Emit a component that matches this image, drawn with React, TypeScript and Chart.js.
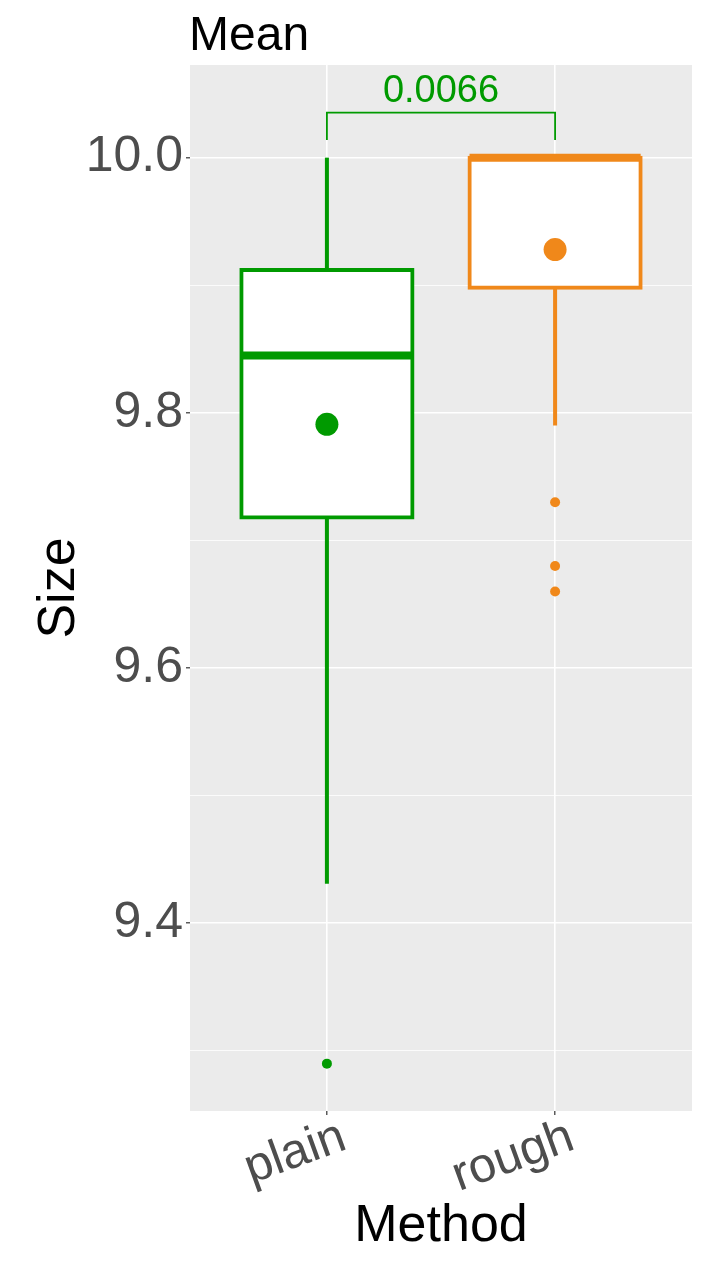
import React, { useEffect, useRef } from 'react';
import { Chart, registerables } from 'chart.js';

Chart.register(...registerables);

// ---- data ----
const categories = ['plain', 'rough'];
const categoryPositions = [1, 2];
const q1Values = [9.718, 9.898];
const medianValues = [9.845, 10.0];
const q3Values = [9.912, 10.0];
const whiskerLowValues = [9.431, 9.79];
const whiskerHighValues = [10.0, 10.0];
const meanValues = [9.791, 9.928];
const plainOutliers = [9.29];
const roughOutliers = [9.73, 9.68, 9.66];
const yMajorTicks = [9.4, 9.6, 9.8, 10.0];
const yTickLabels = ['9.4', '9.6', '9.8', '10.0'];
const yMinorTicks = [9.3, 9.5, 9.7, 9.9];
const pValueText = '0.0066';
const bracketTop = 10.0353;
const bracketTip = 10.0139;
const chartTitle = 'Mean';
const xTitle = 'Method';
const yTitle = 'Size';

// ---- styles ----
const GREEN = '#009A00';
const ORANGE = '#F0881A';
const COLORS = [GREEN, ORANGE];
const FONT = "'Liberation Sans', Arial, Helvetica, sans-serif";
const BOX_WIDTH = 0.75;
const X_MIN = 0.4;
const X_MAX = 2.6;
const Y_MIN = 9.2529;
const Y_MAX = 10.0726;

const isMajor = (v: number | undefined) =>
  v !== undefined && yMajorTicks.some((m) => Math.abs(m - v) < 1e-6);

export default function App() {
  const ref = useRef<HTMLCanvasElement>(null);

  useEffect(() => {
    const canvas = ref.current;
    if (!canvas) return;

    const panelBg = {
      id: 'panelBg',
      beforeDraw(chart: any) {
        const { ctx, chartArea: a } = chart;
        ctx.save();
        ctx.fillStyle = '#EBEBEB';
        ctx.fillRect(a.left, a.top, a.right - a.left, a.bottom - a.top);
        ctx.restore();
      },
    };

    const annotations = {
      id: 'annotations',
      afterDraw(chart: any) {
        const { ctx, chartArea } = chart;
        const x = chart.scales.x;
        const y = chart.scales.y;
        ctx.save();
        ctx.font = `38px ${FONT}`;
        ctx.fillStyle = GREEN;
        ctx.textAlign = 'center';
        ctx.textBaseline = 'alphabetic';
        ctx.fillText(
          pValueText,
          x.getPixelForValue((categoryPositions[0] + categoryPositions[1]) / 2),
          y.getPixelForValue(bracketTop) - 11
        );
        ctx.font = `48px ${FONT}`;
        ctx.fillStyle = '#000000';
        ctx.textAlign = 'left';
        ctx.fillText(chartTitle, chartArea.left - 1, 50);
        ctx.restore();
      },
    };

    const medianRadius = (c: any) => {
      const s = c.chart.scales.x;
      return s.getPixelForValue(1 + BOX_WIDTH / 2) - s.getPixelForValue(1);
    };

    const chart = new Chart(canvas, {
      type: 'bar',
      data: {
        datasets: [
          {
            type: 'bar',
            label: 'lower whisker',
            data: categoryPositions.map((x, i) => ({ x, y: [whiskerLowValues[i], q1Values[i]] })),
            backgroundColor: COLORS,
            borderWidth: 0,
            barThickness: 4,
            grouped: false,
            inflateAmount: 0,
            order: 7,
          } as any,
          {
            type: 'bar',
            label: 'upper whisker',
            data: categoryPositions.map((x, i) => ({ x, y: [q3Values[i], whiskerHighValues[i]] })),
            backgroundColor: COLORS,
            borderWidth: 0,
            barThickness: 4,
            grouped: false,
            inflateAmount: 0,
            order: 7,
          } as any,
          {
            type: 'bar',
            label: 'box',
            data: categoryPositions.map((x, i) => ({ x, y: [q1Values[i], q3Values[i]] })),
            backgroundColor: '#FFFFFF',
            borderColor: COLORS,
            borderWidth: 4,
            borderSkipped: false,
            inflateAmount: 2,
            grouped: false,
            categoryPercentage: 1,
            barPercentage: BOX_WIDTH,
            order: 6,
          } as any,
          {
            type: 'scatter',
            label: 'median',
            data: categoryPositions.map((x, i) => ({ x, y: medianValues[i] })),
            pointStyle: 'line',
            pointRadius: medianRadius,
            pointBorderWidth: 8,
            pointBorderColor: COLORS,
            pointBackgroundColor: COLORS,
            order: 5,
          } as any,
          {
            type: 'scatter',
            label: 'mean',
            data: categoryPositions.map((x, i) => ({ x, y: meanValues[i] })),
            pointRadius: 11.5,
            pointBorderWidth: 0,
            pointBackgroundColor: COLORS,
            order: 4,
          } as any,
          {
            type: 'scatter',
            label: 'plain outliers',
            data: plainOutliers.map((y) => ({ x: categoryPositions[0], y })),
            pointRadius: 5,
            pointBorderWidth: 0,
            pointBackgroundColor: GREEN,
            order: 3,
          } as any,
          {
            type: 'scatter',
            label: 'rough outliers',
            data: roughOutliers.map((y) => ({ x: categoryPositions[1], y })),
            pointRadius: 5,
            pointBorderWidth: 0,
            pointBackgroundColor: ORANGE,
            order: 3,
          } as any,
          {
            type: 'line',
            label: 'bracket',
            data: [
              { x: categoryPositions[0], y: bracketTip },
              { x: categoryPositions[0], y: bracketTop },
              { x: categoryPositions[1], y: bracketTop },
              { x: categoryPositions[1], y: bracketTip },
            ],
            borderColor: GREEN,
            borderWidth: 1.8,
            pointRadius: 0,
            fill: false,
            tension: 0,
            order: 1,
          } as any,
        ],
      },
      options: {
        responsive: false,
        devicePixelRatio: 1,
        animation: false,
        layout: { padding: { top: 65, right: 14, bottom: 0, left: 0 } },
        plugins: {
          legend: { display: false },
          tooltip: { enabled: false },
          title: { display: false },
        },
        scales: {
          x: {
            type: 'linear',
            min: X_MIN,
            max: X_MAX,
            offset: false,
            afterBuildTicks: (s: any) => {
              s.ticks = categoryPositions.map((value) => ({ value }));
            },
            afterFit: (s: any) => {
              s.height = 159;
            },
            ticks: {
              autoSkip: false,
              minRotation: 20,
              maxRotation: 20,
              color: '#4D4D4D',
              font: { family: FONT, size: 49 },
              padding: -7,
              labelOffset: 17,
              callback: (_v: any, i: number) => categories[i],
            },
            grid: {
              color: '#FFFFFF',
              lineWidth: 1.6,
              offset: false,
              tickColor: '#333333',
              tickLength: 4,
              tickWidth: 1.2,
            },
            border: { display: false },
            title: {
              display: true,
              text: xTitle,
              color: '#000000',
              font: { family: FONT, size: 52, lineHeight: 1.2 },
              padding: { top: 0, bottom: 12 },
            },
          },
          y: {
            type: 'linear',
            min: Y_MIN,
            max: Y_MAX,
            beginAtZero: false,
            afterBuildTicks: (s: any) => {
              s.ticks = [...yMinorTicks, ...yMajorTicks]
                .sort((a, b) => a - b)
                .map((value) => ({ value }));
            },
            afterFit: (s: any) => {
              s.width = 190;
            },
            ticks: {
              autoSkip: false,
              color: '#4D4D4D',
              font: { family: FONT, size: 50 },
              padding: 3,
              callback: (v: any) => {
                const i = yMajorTicks.findIndex((m) => Math.abs(m - Number(v)) < 1e-6);
                return i >= 0 ? yTickLabels[i] : '';
              },
            },
            grid: {
              color: '#FFFFFF',
              lineWidth: (c: any) => (isMajor(c.tick?.value) ? 1.6 : 0.8),
              tickColor: (c: any) => (isMajor(c.tick?.value) ? '#333333' : 'rgba(0,0,0,0)'),
              tickLength: 4,
              tickWidth: 1.2,
            },
            border: { display: false },
            title: {
              display: true,
              text: yTitle,
              color: '#000000',
              font: { family: FONT, size: 52, lineHeight: 1.2 },
              padding: { top: 28, bottom: 0 },
            },
          },
        },
      } as any,
      plugins: [panelBg, annotations],
    });

    return () => chart.destroy();
  }, []);

  return (
    <div style={{ position: 'absolute', left: 0, top: 0, width: 706, height: 1270, background: '#FFFFFF' }}>
      <canvas ref={ref} width={706} height={1270} style={{ display: 'block' }} />
    </div>
  );
}
